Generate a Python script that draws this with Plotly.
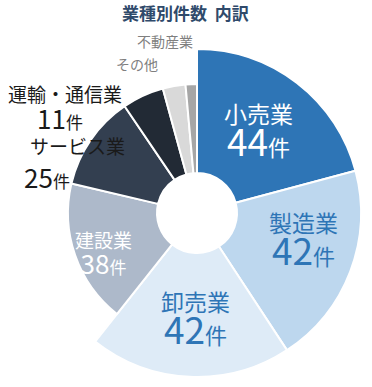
import plotly.graph_objects as go

categories = ["小売業", "製造業", "卸売業", "建設業", "サービス業", "運輸・通信業", "その他", "不動産業"]
counts = [44, 42, 42, 38, 25, 11, 6, 3]
colors = ["#2E75B6", "#BDD7EE", "#DEEBF7", "#ADB9CA", "#333F50", "#222A35", "#D9D9D9", "#A6A6A6"]
highlight = [True, True, True, False, False, False, False, False]
title_text = "業種別件数&nbsp;&nbsp;内訳"

W, H = 372, 387
CX, CY = 197, 213
R_BIG, R_SMALL, R_HOLE = 164, 129, 40
FONT = "Noto Sans CJK JP"
TRANSPARENT = "rgba(0,0,0,0)"


def domain(r):
    cy_b = H - CY
    return dict(x=[(CX - r) / W, (CX + r) / W], y=[(cy_b - r) / H, (cy_b + r) / H])


fig = go.Figure()
for big in (True, False):
    cols = [c if h == big else TRANSPARENT for c, h in zip(colors, highlight)]
    lines = ["white" if h == big else TRANSPARENT for h in highlight]
    r = R_BIG if big else R_SMALL
    fig.add_trace(go.Pie(
        labels=categories, values=counts, sort=False, direction="clockwise", rotation=0,
        marker=dict(colors=cols, line=dict(color=lines, width=2)),
        textinfo="none", hoverinfo="skip", showlegend=False,
        hole=R_HOLE / r, domain=domain(r),
    ))


def px(x, y):
    return x / W, 1 - y / H


def num(i, num_size, unit_size):
    return (f"<span style='font-size:{num_size}px'>{counts[i]}</span>"
            f"<span style='font-size:{unit_size}px'>件</span>")


annotations = []


def add(text, x, y, size, color, bold=False):
    ax, ay = px(x, y)
    annotations.append(dict(x=ax, y=ay, xref="paper", yref="paper",
                            text=f"<b>{text}</b>" if bold else text,
                            showarrow=False, align="center",
                            font=dict(family=FONT, size=size, color=color),
                            xanchor="center", yanchor="middle"))


# labels inside slices: name line + count line in one text
inside = [
    # idx, x, y, color, base size (line spacing), name, number, unit sizes
    (0, 258, 131, "white", 25, 23, 37, 22),
    (1, 303, 241, "#2E75B6", 25, 23, 37, 22),
    (2, 195, 319, "#2E75B6", 25, 23, 37, 22),
    (3, 104, 253, "white", 20, 19, 26, 17),
]
for i, x, y, col, base, ns, nn, nu in inside:
    add(f"<span style='font-size:{ns}px'>{categories[i]}</span><br>{num(i, nn, nu)}", x, y, base, col)

# labels outside slices
add(categories[4], 77, 145, 19, "#1a1a1a")
add(num(4, 26, 17), 47, 176, 26, "#1a1a1a")
add(categories[5], 65, 93, 19, "#1a1a1a")
add(num(5, 26, 17), 60, 118, 26, "#1a1a1a")

add(categories[6], 137, 64, 14, "#7F7F7F")
add(categories[7], 165, 41, 14, "#7F7F7F")

add(title_text, 185, 12, 17, "#2F4A6B", bold=True)

fig.update_layout(
    width=W, height=H, margin=dict(l=0, r=0, t=0, b=0),
    paper_bgcolor="white", plot_bgcolor="white",
    annotations=annotations,
)
fig.write_html("out.html", config={"displayModeBar": False},
               post_script="document.body.style.margin='0';")
